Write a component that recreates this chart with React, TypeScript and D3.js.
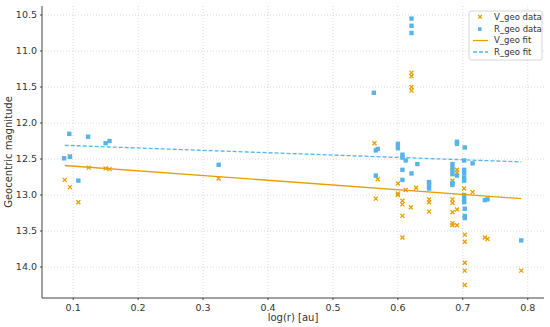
import React from 'react';
import * as d3 from 'd3';

// log(r) and magnitude readings for each series
const vGeoX = [0.087, 0.095, 0.095, 0.108, 0.124, 0.150, 0.156, 0.324, 0.564, 0.569, 0.566,
  0.600, 0.600, 0.600, 0.607, 0.607, 0.607, 0.607, 0.612, 0.620, 0.628,
  0.621, 0.621, 0.621, 0.621, 0.648, 0.648, 0.648,
  0.684, 0.684, 0.684, 0.684, 0.684, 0.684, 0.691, 0.691, 0.691, 0.691,
  0.702, 0.702, 0.703, 0.703, 0.703, 0.703, 0.703, 0.715, 0.734, 0.738, 0.790];
const vGeoY = [12.79, 12.89, 12.46, 13.10, 12.62, 12.63, 12.64, 12.77, 12.28, 12.78, 13.05,
  12.84, 12.98, 13.00, 13.08, 13.13, 13.29, 13.59, 12.93, 13.17, 12.90,
  11.30, 11.35, 11.50, 11.55, 13.06, 13.10, 13.23,
  12.80, 13.06, 13.11, 13.24, 13.39, 13.42, 13.42, 13.20, 12.65, 12.69,
  12.91, 13.08, 13.55, 13.65, 13.94, 14.05, 14.25, 12.96, 13.59, 13.61, 14.05];

const rGeoX = [0.086, 0.095, 0.094, 0.123, 0.150, 0.156, 0.108, 0.324,
  0.563, 0.566, 0.569, 0.566,
  0.600, 0.600, 0.607, 0.607, 0.612, 0.630, 0.607, 0.621, 0.607,
  0.621, 0.621, 0.621, 0.648, 0.648, 0.648,
  0.684, 0.684, 0.684, 0.684, 0.684, 0.684, 0.691, 0.691, 0.691,
  0.703, 0.702, 0.702, 0.702, 0.702, 0.702, 0.702, 0.702, 0.702, 0.703, 0.703, 0.703,
  0.715, 0.734, 0.738, 0.790];
const rGeoY = [12.49, 12.47, 12.15, 12.19, 12.28, 12.25, 12.80, 12.58,
  11.58, 12.38, 12.36, 12.73,
  12.29, 12.35, 12.44, 12.48, 12.52, 12.57, 12.65, 12.70, 12.79,
  10.55, 10.65, 10.75, 12.82, 12.86, 12.91,
  12.57, 12.62, 12.66, 12.71, 12.83, 12.86, 12.26, 12.29, 12.73,
  12.34, 12.52, 12.65, 12.70, 12.76, 12.80, 13.00, 13.05, 13.10, 13.19, 13.29, 13.32,
  12.56, 13.07, 13.06, 13.63];

// fitted lines (endpoints)
const fitX = [0.087, 0.79];
const vFitY = [12.59, 13.05];
const rFitY = [12.31, 12.54];

const xTicks = [0.1, 0.2, 0.3, 0.4, 0.5, 0.6, 0.7, 0.8];
const yTicks = [10.5, 11.0, 11.5, 12.0, 12.5, 13.0, 13.5, 14.0];

const ORANGE = '#E69F00';
const BLUE = '#56B4E9';
const FONT = 'DejaVu Sans, sans-serif';

const App: React.FC = () => {
  const width = 550;
  const height = 327;
  const left = 42, right = 544, top = 6, bottom = 298;

  const x = d3.scaleLinear().domain([0.052, 0.825]).range([left, right]);
  const y = d3.scaleLinear().domain([10.375, 14.43]).range([top, bottom]);

  const line = d3.line<number>()
    .x((_, i) => x(fitX[i]))
    .y(d => y(d));

  const xMark = (cx: number, cy: number, s: number, key: string) => (
    <path key={key} d={`M${cx - s},${cy - s}L${cx + s},${cy + s}M${cx - s},${cy + s}L${cx + s},${cy - s}`}
      stroke={ORANGE} strokeWidth={1.3} fill="none" />
  );

  const lx = 469, ly = 11;

  return (
    <svg width={width} height={height} style={{ position: 'absolute', left: 0, top: 0, background: '#fff' }}
      fontFamily={FONT}>
      {/* grid */}
      <g stroke="#d6d6d6" strokeWidth={0.9} strokeDasharray="1,2">
        {xTicks.map(t => <line key={'gx' + t} x1={x(t)} x2={x(t)} y1={top} y2={bottom} />)}
        {yTicks.map(t => <line key={'gy' + t} x1={left} x2={right} y1={y(t)} y2={y(t)} />)}
      </g>

      {/* scatter */}
      <g>
        {vGeoX.map((v, i) => xMark(x(v), y(vGeoY[i]), 2, 'v' + i))}
      </g>
      <g fill={BLUE}>
        {rGeoX.map((v, i) => <rect key={'r' + i} x={x(v) - 2.2} y={y(rGeoY[i]) - 2.2} width={4.4} height={4.4} />)}
      </g>

      {/* fits */}
      <path d={line(vFitY) || ''} stroke={ORANGE} strokeWidth={1.3} fill="none" />
      <path d={line(rFitY) || ''} stroke={BLUE} strokeWidth={1.3} strokeDasharray="4,2" fill="none" />

      {/* axes */}
      <line x1={left} x2={left} y1={top} y2={bottom} stroke="#444" strokeWidth={1} />
      <line x1={left} x2={right} y1={bottom} y2={bottom} stroke="#444" strokeWidth={1} />
      {xTicks.map(t => (
        <g key={'xt' + t}>
          <line x1={x(t)} x2={x(t)} y1={bottom} y2={bottom + 2} stroke="#444" />
          <text x={x(t)} y={bottom + 13} fontSize={9.5} textAnchor="middle" fill="#333">{t.toFixed(1)}</text>
        </g>
      ))}
      {yTicks.map(t => (
        <g key={'yt' + t}>
          <line x1={left - 2} x2={left} y1={y(t)} y2={y(t)} stroke="#444" />
          <text x={left - 5} y={y(t) + 3.4} fontSize={9.5} textAnchor="end" fill="#333">{t.toFixed(1)}</text>
        </g>
      ))}
      <text x={(left + right) / 2} y={321} fontSize={10} textAnchor="middle" fill="#333">log(r) [au]</text>
      <text transform={`translate(12,${(top + bottom) / 2}) rotate(-90)`} fontSize={10} textAnchor="middle" fill="#333">
        Geocentric magnitude
      </text>

      {/* legend */}
      <g>
        <rect x={lx} y={ly} width={73} height={49} rx={2} fill="#fff" fillOpacity={0.85} stroke="#ccc" strokeWidth={0.8} />
        {xMark(lx + 11, ly + 5.8, 1.8, 'lv')}
        <rect x={lx + 9} y={ly + 16.3} width={3.6} height={3.6} fill={BLUE} />
        <line x1={lx + 4} x2={lx + 19} y1={ly + 29.5} y2={ly + 29.5} stroke={ORANGE} strokeWidth={1.3} />
        <line x1={lx + 4} x2={lx + 19} y1={ly + 41} y2={ly + 41} stroke={BLUE} strokeWidth={1.3} strokeDasharray="4,2" />
        {['V_geo data', 'R_geo data', 'V_geo fit', 'R_geo fit'].map((s, i) => (
          <text key={s} x={lx + 25} y={ly + 9 + i * 11.6} fontSize={8.5} fill="#333">{s}</text>
        ))}
      </g>
    </svg>
  );
};

export default App;
